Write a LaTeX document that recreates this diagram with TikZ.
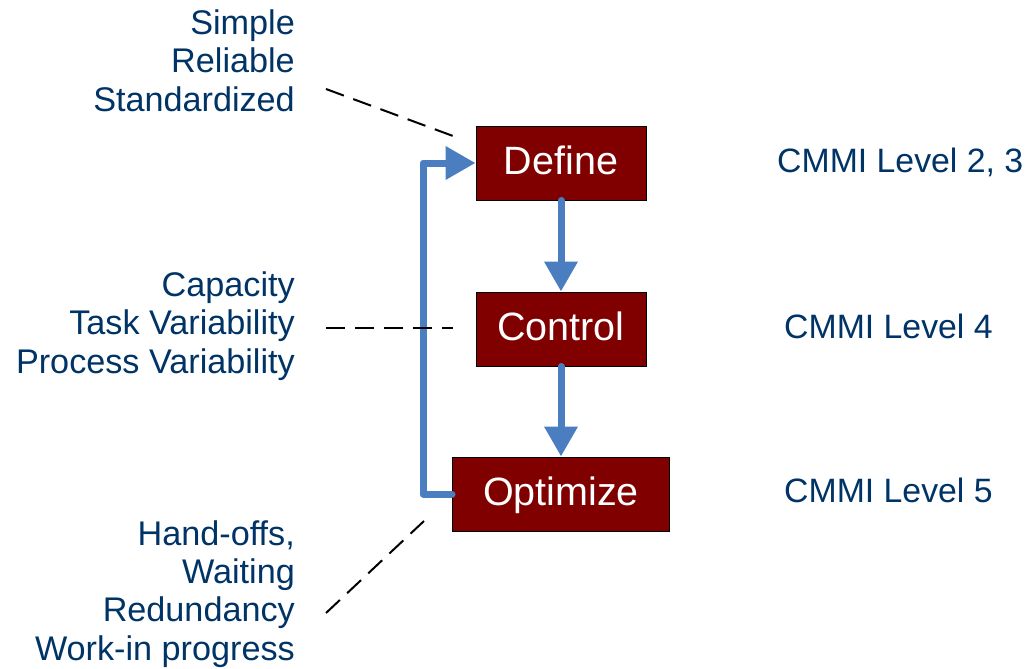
\documentclass[tikz,border=0pt]{standalone}
\usepackage{fontspec}
\setmainfont{Liberation Sans}
\usetikzlibrary{arrows.meta}
\definecolor{stepred}{RGB}{128,0,0}
\definecolor{flowblue}{RGB}{74,126,193}
\definecolor{labelblue}{RGB}{0,51,102}
\tikzset{
  stepbox/.style={draw=black, line width=1pt, fill=stepred, text=white,
    minimum width=170pt, minimum height=74pt, inner sep=0pt,
    text height=22pt, text depth=0pt, font=\fontsize{39.5}{46}\selectfont},
  sidenote/.style={text=labelblue, align=right, inner sep=0pt, anchor=base east,
    font=\fontsize{34.2}{38.3}\selectfont},
  levelnote/.style={text=labelblue, inner sep=0pt, anchor=base west,
    font=\fontsize{33.8}{40}\selectfont},
  flow/.style={draw=flowblue, line width=7pt, line cap=round, line join=round,
    -{Triangle[length=30pt,width=32pt]}},
  leader/.style={draw=black, line width=2pt, dash pattern=on 19pt off 10pt}
}
\begin{document}
\begin{tikzpicture}[x=1pt,y=-1pt]
  \useasboundingbox (0,0) rectangle (1028,669);

  % process steps
  \node[stepbox] (define)   at (561,163) {Define};
  \node[stepbox] (control)  at (561,329) {Control};
  \node[stepbox, minimum width=217pt] (optimize) at (561,494) {Optimize};

  % main flow
  \draw[flow] (define.south) -- (control.north);
  \draw[flow] (control.south) -- (optimize.north);

  % feedback loop
  \coordinate (loopbot) at (423,494);
  \coordinate (looptop) at (423,163);
  \draw[flow] (optimize.west) -- (loopbot) -- (looptop) -- (define.west);

  % side notes (anchored at the baseline of their last line)
  \node[sidenote] (notedef) at (295,111) {Simple\\Reliable\\Standardized};
  \node[sidenote] (notectl) at (295,373) {Capacity\\Task Variability\\Process Variability};
  \node[sidenote] (noteopt) at (295,660) {Hand-offs,\\Waiting\\Redundancy\\Work-in progress};

  % leader lines
  \coordinate (ldef) at (326,89);
  \coordinate (ldefend) at (453,136);
  \coordinate (lctl) at (326,328);
  \coordinate (lctlend) at (453,328);
  \coordinate (lopt) at (326,613);
  \coordinate (loptend) at (424,521);
  \draw[leader] (ldef) -- (ldefend);
  \draw[leader] (lctl) -- (lctlend);
  \draw[leader] (lopt) -- (loptend);

  % maturity levels
  \node[levelnote] (lvl23) at (777,172) {CMMI Level 2, 3};
  \node[levelnote] (lvl4)  at (784,338) {CMMI Level 4};
  \node[levelnote] (lvl5)  at (784,502) {CMMI Level 5};
\end{tikzpicture}
\end{document}
